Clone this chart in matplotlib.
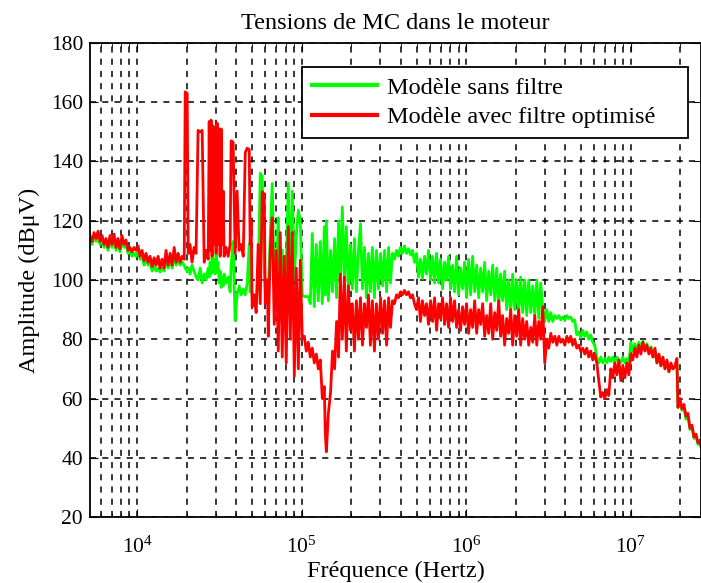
import numpy as np
import matplotlib
matplotlib.use("Agg")
import matplotlib.pyplot as plt

# Spectre des tensions de mode commun
freq = [
    5180, 5330, 5480, 5640, 5800, 5960, 6130, 6310, 6480, 6670,
    6850, 7040, 7250, 7450, 7660, 7880, 8100, 8340, 8570, 8820,
    9070, 9330, 9600, 9870, 10150, 10430, 10730, 11030, 11350, 11670,
    12000, 12340, 12700, 13060, 13430, 13800, 14190, 14600, 15010, 15440,
    15900, 16350, 16820, 17300, 17790, 18300, 18820, 19360, 19630, 20180,
    20470, 21000, 21600, 22220, 22850, 23500, 24200, 24890, 25600, 26330,
    27080, 27460, 27800, 28190, 28590, 28990, 29410, 29820, 30240, 30660,
    31100, 31540, 32000, 32450, 32910, 33370, 33840, 34800, 35800, 36800,
    37320, 38380, 39470, 40590, 41740, 43000, 44220, 45470, 46760, 48090,
    48700, 49390, 50080, 51520, 52990, 54490, 56100, 57690, 59330, 60170,
    61880, 62750, 64500, 66330, 68220, 70160, 72170, 74200, 76310, 78490,
    80710, 83010, 85400, 87790, 90350, 92900, 95560, 98200, 101000, 103900,
    106800, 109900, 113000, 116200, 119500, 122900, 126400, 130000, 133700, 137500,
    139400, 141500, 145500, 150000, 154200, 158700, 163200, 167900, 172000, 176900,
    182000, 187100, 192500, 198000, 203600, 209500, 215400, 221600, 228000, 234500,
    241200, 248000, 255100, 262000, 269400, 277200, 285100, 293200, 302000, 310600,
    319500, 328600, 337900, 347000, 356900, 367100, 377500, 388300, 399000, 410300,
    422100, 434100, 446500, 459000, 472000, 485600, 499400, 513600, 528000, 543000,
    558600, 574500, 590800, 608000, 625300, 643300, 661500, 680400, 699000, 718800,
    739500, 760500, 782200, 804000, 826800, 850600, 874800, 899700, 925000, 951200,
    978700, 1.006e6, 1.035e6, 1.065e6, 1.095e6, 1.127e6, 1.159e6, 1.192e6, 1.225e6, 1.260e6,
    1.296e6, 1.333e6, 1.371e6, 1.410e6, 1.450e6, 1.492e6, 1.534e6, 1.578e6, 1.620e6, 1.666e6,
    1.714e6, 1.763e6, 1.813e6, 1.865e6, 1.918e6, 1.973e6, 2.029e6, 2.087e6, 2.145e6, 2.206e6,
    2.269e6, 2.334e6, 2.400e6, 2.470e6, 2.540e6, 2.613e6, 2.687e6, 2.764e6, 2.840e6, 2.921e6,
    3.005e6, 3.090e6, 3.178e6, 3.270e6, 3.363e6, 3.460e6, 3.558e6, 3.659e6, 3.760e6, 3.867e6,
    3.978e6, 4.091e6, 4.207e6, 4.320e6, 4.443e6, 4.570e6, 4.700e6, 4.834e6, 4.970e6, 5.111e6,
    5.258e6, 5.408e6, 5.561e6, 5.720e6, 5.882e6, 6.052e6, 6.223e6, 6.401e6, 6.580e6, 6.767e6,
    6.962e6, 7.159e6, 7.363e6, 7.570e6, 7.785e6, 8.009e6, 8.236e6, 8.471e6, 8.710e6, 8.958e6,
    9.215e6, 9.477e6, 9.747e6, 1.002e7, 1.030e7, 1.060e7, 1.090e7, 1.121e7, 1.153e7, 1.186e7,
    1.220e7, 1.254e7, 1.290e7, 1.327e7, 1.365e7, 1.404e7, 1.444e7, 1.485e7, 1.527e7, 1.570e7,
    1.616e7, 1.661e7, 1.709e7, 1.756e7, 1.806e7, 1.858e7, 1.910e7, 1.937e7, 1.992e7, 2.048e7,
    2.107e7, 2.167e7, 2.228e7, 2.292e7, 2.358e7, 2.425e7, 2.494e7, 2.565e7, 2.638e7, 2.675e7,
]

# Modèle sans filtre (vert)
amp_sans = [
    114, 112, 115, 113, 115, 112, 114, 111, 113, 110,
    114, 111, 114, 110, 113, 109.5, 113, 111, 112, 109,
    110, 108, 109, 108, 110, 107, 108, 105, 107, 105,
    106, 103, 105, 103, 104, 102.7, 104, 103, 107, 104,
    107, 104, 108, 105, 107, 105, 106, 105, 104, 103,
    104, 102, 105, 103, 101, 100, 104, 99, 102, 100,
    104, 101, 106, 102, 108, 103, 107, 102, 109, 104,
    106, 99, 103, 97.5, 101, 98, 102, 99, 101, 96,
    105, 113, 86.3, 95, 98, 95, 97, 95, 99, 112,
    96, 100, 94, 94.4, 92, 100, 136, 135, 104, 96,
    98, 94, 115, 132.6, 100, 98, 121, 100, 110, 96,
    104, 132.6, 98, 130, 100, 115, 123.6, 120, 95, 94.4,
    94.4, 94.4, 92, 115.7, 91, 112, 93, 113, 92, 118,
    95, 120, 93, 110, 96, 114, 94, 120, 99, 124.7,
    100, 118, 95, 112, 97, 114, 96, 110, 119, 97,
    111, 94, 109, 96, 111, 94, 110, 97, 109, 98,
    110, 96, 111, 99, 109, 107, 110, 108, 111, 109,
    111.5, 109, 110.5, 108.5, 110, 106, 109, 101, 107, 100.5,
    108, 102, 110, 100, 108, 99, 109, 99, 107, 97,
    106, 100, 108, 97, 105, 96, 108, 95, 104, 97,
    106, 94, 107, 95, 108, 96, 105, 94, 104, 96,
    106, 93, 103, 95, 105, 93, 104, 91, 102, 93,
    103, 90, 100, 89, 102, 90, 100, 89, 101, 89,
    100, 88, 100, 89, 98, 88, 100, 87, 99, 90.5,
    86, 90, 86, 89, 86, 88, 87, 88, 86.5, 87.5,
    86.5, 88, 87, 87.5, 86, 86.5, 81.5, 82.5, 80.5, 83,
    81, 82.5, 80, 81.5, 79, 78, 74, 72, 74, 72,
    73.5, 72, 74, 72.5, 74, 72, 74, 73, 72, 74,
    72, 73.5, 72, 79, 76, 78.5, 76, 79, 77, 79.4,
    77, 78.5, 76, 77.5, 74, 76, 72, 74.5, 71, 73.5,
    70, 72.5, 69, 71.5, 70, 70.5, 72, 57, 59, 56,
    57, 53, 54, 49.5, 50, 46.5, 47, 44.5, 45.5, 43.5,
]

# Modèle avec filtre optimisé (rouge)
amp_filtre = [
    115, 113, 116, 114, 116.5, 113, 115, 112, 114, 111,
    115, 112, 115.5, 111, 114, 110.5, 115, 112, 113.5, 110,
    111, 109.5, 111, 110, 111.5, 108, 110, 106.5, 109, 106,
    108, 104.5, 107.5, 105, 108, 104, 107, 104, 110, 105,
    109, 105, 111, 106, 109, 106, 108, 107, 163.5, 163,
    109, 112, 106, 111, 109, 150.5, 150, 150.5, 106, 110,
    107, 153.5, 110, 154, 108, 152, 112, 151.5, 109, 153,
    112, 151, 108, 151, 112, 130, 108, 111, 108, 112,
    147, 146.5, 109, 130, 110, 112, 108, 143, 144.5, 144,
    112, 120, 91, 95, 89, 112, 92, 129.8, 129, 92,
    100, 81, 110, 121, 85, 110, 76, 116, 74, 108,
    72, 118, 80, 116, 67.5, 104, 70, 106.7, 80, 81,
    76, 79, 74, 77, 72, 75, 70, 73, 60, 64,
    48, 42, 55, 62, 76, 70, 86, 74, 102, 80,
    101, 76, 98, 83, 92, 76, 93, 80, 94, 78,
    92, 84, 95, 78, 93, 76, 92, 80, 94, 82,
    93, 78, 94, 84, 93, 92, 95, 94, 96, 95,
    96.5, 95, 96, 94, 95, 92, 90, 94, 86, 93,
    88, 92, 85, 93, 86, 94, 83, 92, 87, 94,
    85, 92, 84, 94, 86, 93, 84, 90, 83, 91,
    85, 92, 82, 90, 84, 93, 82, 90, 85, 92,
    81, 88, 82, 92, 80, 89, 83, 93, 81, 88,
    78, 87, 82, 90, 78, 88, 81, 90, 78, 87,
    80, 86, 78, 84, 79, 88, 78, 86, 80, 91,
    72, 80, 77, 82, 79, 81, 78, 81, 79, 80,
    78, 81, 79, 81, 78, 80, 77, 78, 76, 77,
    75, 77, 74, 76, 73, 75, 72, 66, 60.5, 62,
    60, 63, 61, 70, 67, 72, 68, 73, 66, 71,
    67, 72, 68, 75, 73, 77, 74, 78, 75, 79,
    76, 78, 75, 77, 74, 77, 72, 75, 71, 74,
    70, 73, 69, 72, 70, 71, 73.5, 57, 60, 56.5,
    58, 54, 55, 50, 51, 47, 48, 45, 46, 44,
]

y_ticks = [20, 40, 60, 80, 100, 120, 140, 160, 180]

plt.rcParams['font.family'] = ['Liberation Serif', 'DejaVu Serif']
plt.rcParams['mathtext.fontset'] = 'custom'
plt.rcParams['mathtext.rm'] = 'Liberation Serif'
plt.rcParams['mathtext.it'] = 'Liberation Serif:italic'

fig = plt.figure(figsize=(7.01, 5.83), dpi=100)
ax = fig.add_axes([90 / 701, 1 - 517 / 583, 611 / 701, 474 / 583])

ax.semilogx(freq, amp_sans, color='#00ff00', lw=2, label='Modèle sans filtre')
ax.semilogx(freq, amp_filtre, color='#ff0000', lw=2, label='Modèle avec filtre optimisé')

ax.set_xlim(5180, 2.675e7)
ax.set_ylim(20, 180)
ax.set_yticks(y_ticks)

ax.grid(True, which='major', color='k', linestyle=(0, (4, 4)), lw=1.1)
ax.grid(True, which='minor', axis='x', color='k', linestyle=(0, (4, 4)), lw=1.1)

ax.tick_params(which='both', direction='in', top=True, right=True, labelsize=15.5)
ax.tick_params(axis='x', which='major', length=6, pad=14)
ax.tick_params(axis='x', which='minor', length=3)
ax.tick_params(axis='y', length=6, pad=5)
for s in ax.spines.values():
    s.set_linewidth(1.3)

ax.set_title('Tensions de MC dans le moteur', fontsize=17.5, pad=10)
ax.set_xlabel('Fréquence (Hertz)', fontsize=17.5, labelpad=2)
ax.set_ylabel('Amplitude (dBμV)', fontsize=17.5, labelpad=8)

leg = ax.legend(loc='upper left', bbox_to_anchor=(0.347, 0.797, 0.632, 0.152),
                mode='expand', borderaxespad=0,
                fontsize=17.5, fancybox=False, framealpha=1, edgecolor='k',
                handlelength=2.7, handletextpad=0.4, borderpad=0.4, labelspacing=0.3)
leg.get_frame().set_linewidth(1.3)
for line in leg.get_lines():
    line.set_linewidth(3)

fig.savefig('out.png', dpi=100)
